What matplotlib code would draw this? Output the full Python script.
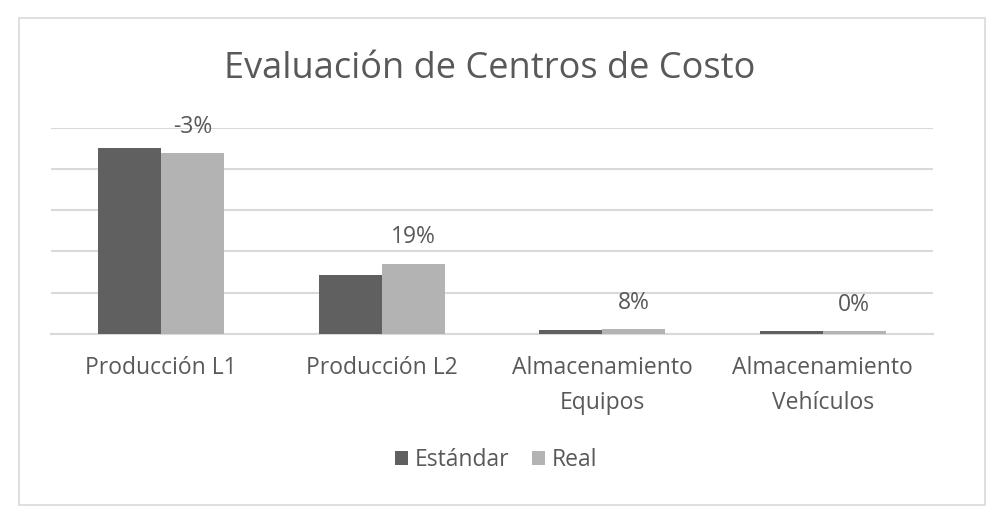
import matplotlib
matplotlib.use("Agg")
import matplotlib.pyplot as plt
from matplotlib.patches import Rectangle
import numpy as np

# values (thousands, same scale for both series)
categories = ["Producción L1", "Producción L2", "Almacenamiento\nEquipos", "Almacenamiento\nVehículos"]
estandar = [451, 143, 10, 6]
real = [438, 170, 10.8, 6]
series_names = ["Estándar", "Real"]

C_STD = "#606060"
C_REAL = "#b3b3b3"
C_TEXT = "#595959"
C_GRID = "#d9d9d9"

plt.rcParams["font.family"] = ["Open Sans", "DejaVu Sans"]

fig = plt.figure(figsize=(9.92, 5.2), dpi=100)
fig.patches.append(Rectangle((19 / 992, 1 - 505 / 520), 966 / 992, 487 / 520,
                             transform=fig.transFigure, fill=False,
                             edgecolor=C_GRID, linewidth=1.2))

ax = fig.add_axes([51 / 992, 1 - 333.7 / 520, 882 / 992, 206 / 520])
x = np.arange(len(categories))
bw = 0.285
ax.bar(x - bw / 2, estandar, width=bw, color=C_STD, zorder=3, label=series_names[0])
b2 = ax.bar(x + bw / 2, real, width=bw, color=C_REAL, zorder=3, label=series_names[1])

for b, s, r in zip(b2, estandar, real):
    pct = (r / s - 1) * 100
    ax.annotate(f"{pct:.0f}%", (b.get_x() + b.get_width() / 2, b.get_height()),
                xytext=(0, 19), textcoords="offset points", ha="center", va="center",
                fontsize=16.5, color=C_TEXT)

ax.set_xlim(-0.5, len(categories) - 0.5)
ax.set_ylim(0, 500)
ax.set_yticks(np.arange(0, 501, 100))
ax.yaxis.grid(True, color=C_GRID, linewidth=1.5, zorder=0)
ax.tick_params(axis="y", left=False, labelleft=False)
ax.set_xticks(x, categories)
ax.tick_params(axis="x", length=0, pad=16, labelsize=16.5, labelcolor=C_TEXT)
for lab in ax.get_xticklabels():
    lab.set_linespacing(1.62)
for s in ["top", "right", "left"]:
    ax.spines[s].set_visible(False)
ax.spines["bottom"].set_color(C_GRID)
ax.spines["bottom"].set_linewidth(1.5)

fig.text(490 / 992, 1 - 69 / 520, "Evaluación de Centros de Costo",
         ha="center", va="center", fontsize=26, color=C_TEXT)

h, l = ax.get_legend_handles_labels()
fig.legend(h, l, loc="center", bbox_to_anchor=(496 / 992, 1 - 460 / 520), ncol=2,
           frameon=False, fontsize=16.5, labelcolor=C_TEXT, handlelength=0.55,
           handleheight=0.55, handletextpad=0.3, columnspacing=1.0)

fig.savefig("out.png")
